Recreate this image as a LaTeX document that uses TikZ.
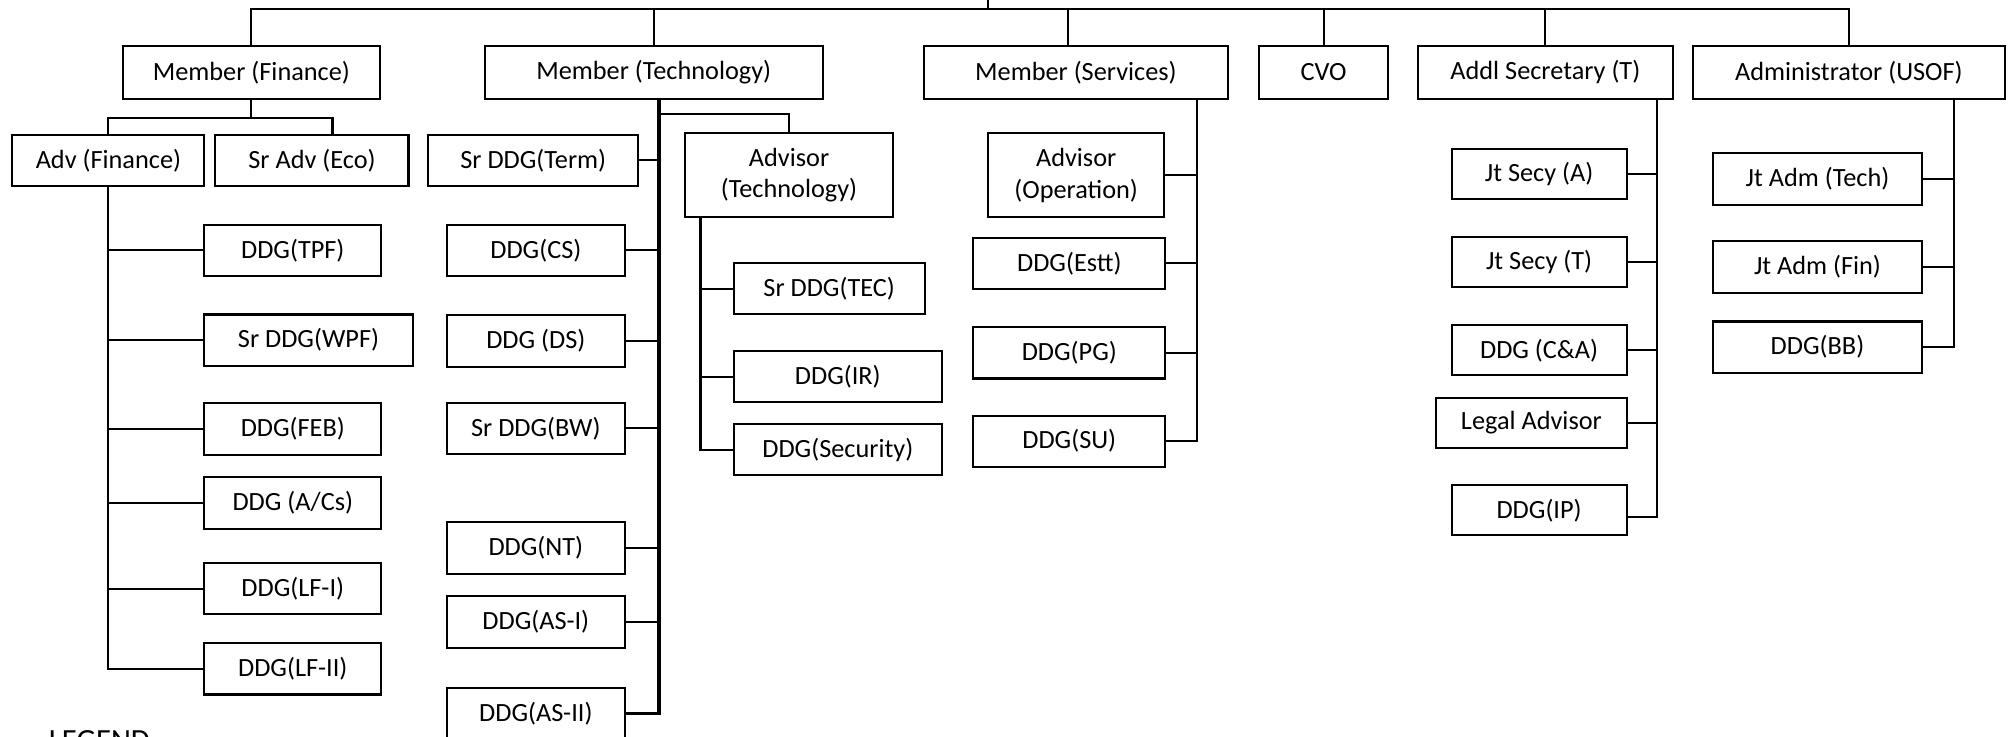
\documentclass[tikz,border=0pt]{standalone}
\usepackage{fontspec}
\setmainfont{Carlito}
\tikzset{
  box/.style={draw=black,line width=1.6pt,minimum height=40pt,inner sep=2pt,align=center,font=\fontsize{20.5}{24.5}\selectfont},
  link/.style={line width=1.6pt}
}
\begin{document}
\begin{tikzpicture}[x=1pt,y=-1pt]
\useasboundingbox (0,0) rectangle (1568,574);
\clip (0,0) rectangle (1568,574);
% the top row of heads
\node[box,minimum width=200.5pt,minimum height=41.5pt] (mfin) at (196,56.5) {Member (Finance)};
\node[box,minimum width=263.5pt,minimum height=41.5pt] (mtech) at (509.75,56.5) {Member (Technology)};
\node[box,minimum width=237.3pt,minimum height=41.5pt] (mserv) at (838.9,56.5) {Member (Services)};
\node[box,minimum width=100pt,minimum height=41.5pt] (cvo) at (1032,56.5) {CVO};
\node[box,minimum width=198.7pt,minimum height=41.5pt] (addl) at (1204.9,56.5) {Addl Secretary (T)};
\node[box,minimum width=243.6pt,minimum height=41.5pt] (adm) at (1441.6,56.5) {Administrator (USOF)};
% the line over them
\coordinate (head) at (770,0);
\coordinate (bar) at (770,7);
\draw[link] (head) -- (bar);
\draw[link] (mfin.north) |- (adm.north |- bar) -- (adm.north);
\foreach \n in {mtech,cvo,addl}
  \draw[link] (\n.north) -- (\n.north |- bar);
\draw[link] ([xshift=-6pt]mserv.north) -- ([xshift=-6pt]mserv.north |- bar);
% finance
\node[box,minimum width=149.7pt] (advfin) at (84.55,125.1) {Adv (Finance)};
\node[box,minimum width=150.5pt] (sradv) at (243.25,125.1) {Sr Adv (Eco)};
\node[box,anchor=west,minimum width=138pt] (tpf) at (158.5,195.2) {DDG(TPF)};
\node[box,anchor=west,minimum width=162.5pt] (wpf) at (158.5,265.2) {Sr DDG(WPF)};
\node[box,anchor=west,minimum width=138pt] (feb) at (158.5,334.4) {DDG(FEB)};
\node[box,anchor=west,minimum width=138pt] (acs) at (158.5,392.2) {DDG (A/Cs)};
\node[box,anchor=west,minimum width=138pt] (lfi) at (158.5,459) {DDG(LF-I)};
\node[box,anchor=west,minimum width=138pt] (lfii) at (158.5,521.5) {DDG(LF-II)};
\draw[link] (mfin.south) -- ++(0,14) coordinate (fj);
\draw[link] (advfin.north) |- (fj) -| ([xshift=16pt]sradv.north);
\draw[link] (advfin.south) |- (lfii.west);
\foreach \n in {tpf,wpf,feb,acs,lfi}
  \draw[link] (\n.west) -- (\n.west -| advfin.south);
% technology
\node[box,anchor=west,minimum width=164pt] (term) at (333,125.1) {Sr DDG(Term)};
\node[box,anchor=west,minimum width=139pt] (cs) at (347.5,195.2) {DDG(CS)};
\node[box,anchor=west,minimum width=139pt] (ds) at (347.5,265.8) {DDG (DS)};
\node[box,anchor=west,minimum width=139pt] (bw) at (347.5,334) {Sr DDG(BW)};
\node[box,anchor=west,minimum width=139pt] (nt) at (347.5,427.2) {DDG(NT)};
\node[box,anchor=west,minimum width=139pt] (asi) at (347.5,485) {DDG(AS-I)};
\node[box,anchor=west,minimum width=139pt] (asii) at (347.5,556.5) {DDG(AS-II)};
\coordinate (techspine) at ([xshift=4pt]mtech.south);
\draw[line width=2.6pt] (techspine) |- (asii.east);
\foreach \n in {term,cs,ds,bw,nt,asi}
  \draw[link] (\n.east) -- (\n.east -| techspine);
\node[box,minimum width=162.5pt,minimum height=65.5pt] (advtech) at (615.25,136.75) {Advisor\\(Technology)};
\draw[link] (advtech.north) -- ++(0,-14) -| (techspine);
\node[box,anchor=west,minimum width=149pt] (tec) at (571.2,225) {Sr DDG(TEC)};
\node[box,anchor=west,minimum width=162.5pt] (ir) at (571.2,293.7) {DDG(IR)};
\node[box,anchor=west,minimum width=162.5pt] (sec) at (571.2,350.5) {DDG(Security)};
\coordinate (advspine) at ([xshift=13pt]advtech.south west);
\draw[link] (advspine) |- (sec.west);
\foreach \n in {tec,ir}
  \draw[link] (\n.west) -- (\n.west -| advspine);
% services
\node[box,minimum width=137.4pt,minimum height=65.5pt] (advop) at (839.1,136.75) {Advisor\\(Operation)};
\node[box,anchor=west,minimum width=149.7pt] (estt) at (758.1,205.3) {DDG(Estt)};
\node[box,anchor=west,minimum width=149.7pt] (pg) at (758.1,275.1) {DDG(PG)};
\node[box,anchor=west,minimum width=149.7pt] (su) at (758.1,344) {DDG(SU)};
\coordinate (servspine) at ([xshift=-25pt]mserv.south east);
\draw[link] (servspine) |- (su.east);
\foreach \n in {advop,estt,pg}
  \draw[link] (\n.east) -- (\n.east -| servspine);
% addl secretary
\node[box,anchor=west,minimum width=136.5pt,minimum height=39pt] (jsa) at (1131,135.75) {Jt Secy (A)};
\node[box,anchor=west,minimum width=136.5pt,minimum height=39pt] (jst) at (1131,204.1) {Jt Secy (T)};
\node[box,anchor=west,minimum width=136.5pt,minimum height=39pt] (cna) at (1131,273.15) {DDG (C\&A)};
\node[box,anchor=west,minimum width=148.5pt,minimum height=39pt] (legal) at (1119,329.45) {Legal Advisor};
\node[box,anchor=west,minimum width=136.5pt,minimum height=39pt] (ip) at (1131,397.9) {DDG(IP)};
\coordinate (secyspine) at ([xshift=-13pt]addl.south east);
\draw[link] (secyspine) |- ([yshift=-5pt]ip.east);
\foreach \n in {jsa,jst,cna,legal}
  \draw[link] (\n.east) -- (\n.east -| secyspine);
% administrator
\node[box,anchor=west,minimum width=163.4pt] (jat) at (1334.6,139.6) {Jt Adm (Tech)};
\node[box,anchor=west,minimum width=163.4pt] (jaf) at (1334.6,208.1) {Jt Adm (Fin)};
\node[box,anchor=west,minimum width=163.4pt] (bb) at (1334.6,270.65) {DDG(BB)};
\coordinate (usofspine) at ([xshift=-41pt]adm.south east);
\draw[link] (usofspine) |- (bb.east);
\foreach \n in {jat,jaf}
  \draw[link] (\n.east) -- (\n.east -| usofspine);
% legend, cut by the lower edge
\node[anchor=base west,inner sep=0pt,font=\fontsize{24}{26}\selectfont] (legend) at (38,585) {LEGEND};
\end{tikzpicture}
\end{document}
